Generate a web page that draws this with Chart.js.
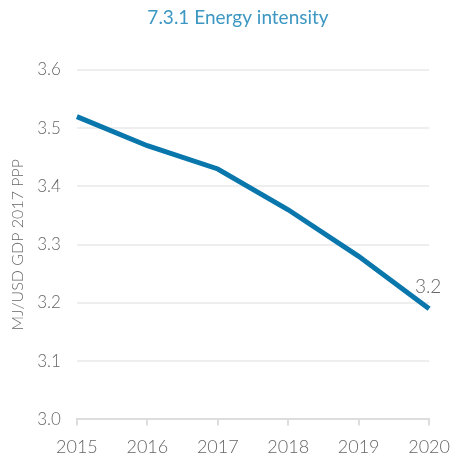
<!DOCTYPE html>
<html>
<head>
<meta charset="utf-8">
<script src="https://cdn.jsdelivr.net/npm/chart.js@4"></script>
<style>
html,body{margin:0;padding:0;background:#fff;}
#wrap{width:461px;height:464px;}
</style>
</head>
<body>
<div id="wrap"><canvas id="line_chart"></canvas></div>
<script>
const years = ['2015', '2016', '2017', '2018', '2019', '2020'];
const intensity = [3.52, 3.47, 3.43, 3.36, 3.28, 3.19];
const labelledPoints = [5];
const chartTitle = '7.3.1 Energy intensity';

// value next to the last point, and the title (sits a bit right of canvas centre)
const extraText = {
    id: 'extraText',
    afterDatasetsDraw(chart) {
        const c = chart.ctx;
        const meta = chart.getDatasetMeta(0);
        c.save();
        c.font = '300 19px Lato';
        c.fillStyle = '#666';
        c.textAlign = 'center';
        c.textBaseline = 'bottom';
        labelledPoints.forEach(i => {
            const p = meta.data[i];
            c.fillText(intensity[i].toFixed(1), p.x - 1, p.y - 12);
        });
        c.font = '19px Lato';
        c.fillStyle = '#3c97c2';
        c.textBaseline = 'middle';
        c.fillText(chartTitle, 238, 18);
        c.restore();
    }
};

const ctx = document.getElementById('line_chart').getContext('2d');
const line_chart = new Chart(ctx, {
type: 'line',
data: {
    labels: years,
    datasets: [{
        label: 'MJ/USD',
        data: intensity,
        borderColor: '#0a77ac',
        borderWidth: 5,
        pointRadius: 0,
        tension: 0,
        fill: false
    }]
},
options: {
    responsive: true,
    maintainAspectRatio: false,
    animation: false,
    layout: {
        padding: {left: 4, right: 25, top: 70, bottom: 0}
    },
    plugins: {
        legend: {display: false},
        tooltip: {enabled: false},
        title: {display: false}
    },
    scales: {
        x: {
            offset: false,
            afterFit(axis) { axis.height -= 5; },
            grid: {
                display: true,
                drawOnChartArea: false,
                drawTicks: true,
                tickLength: 6,
                color: '#ddd',
                lineWidth: 2
            },
            border: {color: '#ddd', width: 2},
            ticks: {
                color: '#666',
                font: {family: 'Lato', size: 18, weight: '300'},
                padding: 11,
                maxRotation: 0
            }
        },
        y: {
            min: 3.0,
            max: 3.6,
            ticks: {
                stepSize: 0.1,
                color: '#666',
                font: {family: 'Lato', size: 17, weight: '300'},
                padding: 16,
                callback: v => v.toFixed(1)
            },
            grid: {
                color: '#eee',
                lineWidth: 2,
                drawTicks: false
            },
            border: {display: false},
            title: {
                display: true,
                text: 'MJ/USD GDP 2017 PPP',
                color: '#666',
                font: {family: 'Lato', size: 16, weight: '300'},
                padding: {top: 4, bottom: -6}
            }
        }
    }
},
plugins: [extraText]
});
</script>
</body>
</html>
